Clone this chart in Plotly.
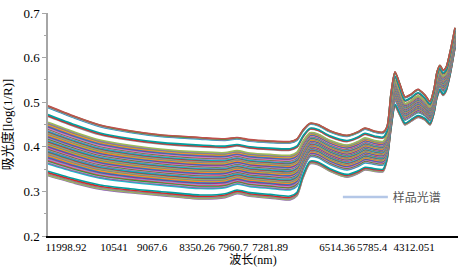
import plotly.graph_objects as go

# spectral channel index of each knot (left = 11998.92 cm-1 side, right = 4312 side)
channel = [0, 27, 52, 82, 112, 152, 177, 189, 202, 222, 242, 249, 255, 262, 270, 282,
           299, 310, 317, 327, 335, 339, 343, 347, 352, 357, 363, 370, 377, 382, 386,
           389, 392, 395, 398, 402, 407]

# upper envelope spectrum (highest sample)
upper_spectrum = [0.492, 0.468, 0.449, 0.436, 0.427, 0.421, 0.418, 0.421, 0.416, 0.413,
                  0.412, 0.418, 0.438, 0.453, 0.450, 0.436, 0.426, 0.434, 0.442, 0.435,
                  0.433, 0.445, 0.520, 0.568, 0.540, 0.512, 0.518, 0.529, 0.516, 0.502,
                  0.530, 0.568, 0.583, 0.572, 0.578, 0.612, 0.667]

# lower envelope spectrum (lowest sample)
lower_spectrum = [0.335, 0.318, 0.305, 0.297, 0.291, 0.283, 0.286, 0.295, 0.289, 0.285,
                  0.281, 0.290, 0.330, 0.362, 0.360, 0.345, 0.332, 0.340, 0.348, 0.345,
                  0.344, 0.370, 0.440, 0.490, 0.470, 0.449, 0.457, 0.466, 0.460, 0.449,
                  0.475, 0.510, 0.525, 0.515, 0.524, 0.560, 0.622]

# relative position of each sample between the envelopes (0 = top, 1 = bottom)
sample_level = [0.000, 0.006, 0.012, 0.020, 0.028,
                0.125, 0.140, 0.152,
                0.235, 0.248, 0.256, 0.265, 0.272, 0.283, 0.290, 0.297, 0.305, 0.318,
                0.324, 0.331, 0.340, 0.347, 0.355, 0.362, 0.370, 0.381, 0.388, 0.394,
                0.402, 0.410, 0.419, 0.425, 0.433, 0.441, 0.450, 0.457, 0.463, 0.472,
                0.480, 0.487, 0.495, 0.503, 0.512, 0.520, 0.527, 0.535, 0.544, 0.551,
                0.560, 0.567, 0.575, 0.583, 0.592, 0.600, 0.609, 0.617, 0.625, 0.634,
                0.642, 0.651, 0.660, 0.668, 0.677, 0.686, 0.694, 0.703, 0.712, 0.722,
                0.731, 0.741, 0.752, 0.763, 0.775, 0.788, 0.800, 0.815, 0.830,
                0.935, 0.955, 0.975, 0.990, 1.000]

tick_channel = [18, 66, 104, 149, 185, 222, 289, 324, 366]
tick_labels = ["11998.92", "10541", "9067.6", "8350.26", "7960.7", "7281.89",
               "6514.36", "5785.4", "4312.051"]

palette = ['#C0504D', '#4F81BD', '#9BBB59', '#8064A2', '#4BACC6', '#F79646',
           '#D62728', '#2CA02C', '#1F77B4', '#9467BD', '#17BECF', '#E377C2',
           '#FF7F0E', '#8C8C8C', '#B0A0D0', '#C71585', '#6AAF3D', '#00A0A0']

fig = go.Figure()
n = len(sample_level)
for i in range(n - 1, -1, -1):
    lv = sample_level[i]
    y = [u + lv * (l - u) for u, l in zip(upper_spectrum, lower_spectrum)]
    fig.add_trace(go.Scatter(
        x=channel, y=y, mode="lines",
        line=dict(color=palette[(i * 7) % len(palette)], width=1.6,
                  shape="spline", smoothing=0.7),
        showlegend=False, hoverinfo="skip"))

fig.add_trace(go.Scatter(x=[None], y=[None], mode="lines", name="样品光谱",
                         line=dict(color="#B4C7E7", width=2.5)))

serif = "Liberation Serif"
cjk = "Liberation Serif, Noto Sans CJK SC"
fig.update_layout(
    width=461, height=272,
    margin=dict(l=48, r=3, t=13, b=36),
    paper_bgcolor="white", plot_bgcolor="white",
    font=dict(family=serif, size=12, color="#000000"),
    legend=dict(x=0.707, y=0.175, xanchor="left", yanchor="middle",
                bgcolor="rgba(0,0,0,0)", itemwidth=45,
                font=dict(family="Noto Sans CJK SC", size=12, color="#595959")),
    xaxis=dict(range=[0, 410], showgrid=False, zeroline=False, automargin=False,
               showline=True, linecolor="#000000", linewidth=2,
               tickmode="array", tickvals=tick_channel, ticktext=tick_labels,
               ticks="", tickangle=0, tickfont=dict(family=serif, size=11),
               title=dict(text="波长(nm)", font=dict(family=cjk, size=12), standoff=2)),
    yaxis=dict(range=[0.2, 0.7], dtick=0.1, tickformat=".1f", showgrid=False,
               zeroline=False, showline=True, linecolor="#A6A6A6", linewidth=1.5,
               automargin=False,
               ticks="outside", ticklen=4, tickcolor="#A6A6A6",
               minor=dict(dtick=0.05, ticks="outside", ticklen=2, tickcolor="#A6A6A6"),
               tickfont=dict(family=serif, size=13),
               title=dict(text="吸光度[log(1/R)]", font=dict(family=cjk, size=13), standoff=10)),
)

fig.write_html("out.html", config={"displayModeBar": False},
               post_script="document.body.style.margin='0';document.body.style.padding='0';")
